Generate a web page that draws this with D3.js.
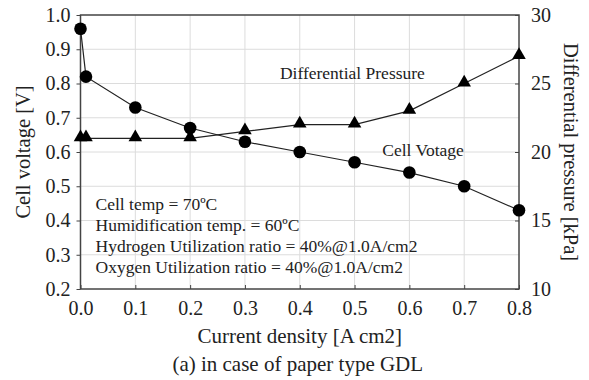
<!DOCTYPE html>
<html lang="en">
<head>
  <meta charset="UTF-8">
  <title>Cell voltage and differential pressure - paper type GDL</title>
  <script src="https://d3js.org/d3.v7.min.js"></script>
  <style>
    body { margin: 0; background: #fff; font-family: "Liberation Serif", "Times New Roman", serif; }
    svg text { font-family: "Liberation Serif", "Times New Roman", serif; fill: #222; }
    .grid line { stroke: #dcdcdc; stroke-width: 1; }
  </style>
</head>
<body>
<div id="chart"></div>
<script>
const current = [0.0, 0.01, 0.1, 0.2, 0.3, 0.4, 0.5, 0.6, 0.7, 0.8];
const voltage = [0.96, 0.82, 0.73, 0.67, 0.63, 0.60, 0.57, 0.54, 0.50, 0.43];
const pressure = [21, 21, 21, 21, 21.5, 22, 22, 23, 25, 27];
const xTicks = [0.0, 0.1, 0.2, 0.3, 0.4, 0.5, 0.6, 0.7, 0.8];
const yTicks = [0.2, 0.3, 0.4, 0.5, 0.6, 0.7, 0.8, 0.9, 1.0];
const pTicks = [10, 15, 20, 25, 30];
const notes = [
  "Cell temp = 70\u00BAC",
  "Humidification temp. = 60\u00BAC",
  "Hydrogen Utilization ratio = 40%@1.0A/cm2",
  "Oxygen Utilization ratio = 40%@1.0A/cm2"
];

const width = 589, height = 380;
const margin = {top: 15, right: 70, bottom: 91, left: 80.5};
const innerW = width - margin.left - margin.right;
const innerH = height - margin.top - margin.bottom;

const svg = d3.select("#chart").append("svg")
  .attr("width", width)
  .attr("height", height);

const g = svg.append("g")
  .attr("transform", `translate(${margin.left},${margin.top})`);

const x = d3.scaleLinear().domain([0, 0.8]).range([0, innerW]);
const y = d3.scaleLinear().domain([0.2, 1.0]).range([innerH, 0]);
const yp = d3.scaleLinear().domain([10, 30]).range([innerH, 0]);

// grid
const grid = g.append("g").attr("class", "grid");
grid.selectAll(".vx").data(xTicks.slice(1, -1)).enter().append("line")
  .attr("x1", d => x(d)).attr("x2", d => x(d))
  .attr("y1", 0).attr("y2", innerH);
grid.selectAll(".hy").data(yTicks.slice(1, -1)).enter().append("line")
  .attr("x1", 0).attr("x2", innerW)
  .attr("y1", d => y(d)).attr("y2", d => y(d));

// axes
const xAxis = g.append("g")
  .attr("transform", `translate(0,${innerH})`)
  .call(d3.axisBottom(x).tickValues(xTicks).tickFormat(d3.format(".1f")).tickSizeInner(-4).tickSizeOuter(0).tickPadding(12));
const yAxis = g.append("g")
  .call(d3.axisLeft(y).tickValues(yTicks).tickFormat(d3.format(".1f")).tickSizeInner(4).tickSizeOuter(0).tickPadding(6));
const pAxis = g.append("g")
  .attr("transform", `translate(${innerW},0)`)
  .call(d3.axisRight(yp).tickValues(pTicks).tickSizeInner(-4).tickSizeOuter(0).tickPadding(12));

[xAxis, yAxis, pAxis].forEach(a => {
  a.select(".domain").remove();
  a.selectAll("line").attr("stroke", "#444");
  a.selectAll("text").attr("font-size", 20).attr("fill", "#222");
});

// frame
g.append("rect")
  .attr("width", innerW).attr("height", innerH)
  .attr("fill", "none").attr("stroke", "#444").attr("stroke-width", 1.5);

// lines
const vLine = d3.line().x((d, i) => x(current[i])).y(d => y(d));
const pLine = d3.line().x((d, i) => x(current[i])).y(d => yp(d));

g.append("path").datum(pressure)
  .attr("d", pLine).attr("fill", "none").attr("stroke", "#222").attr("stroke-width", 1.2);
g.append("path").datum(voltage)
  .attr("d", vLine).attr("fill", "none").attr("stroke", "#222").attr("stroke-width", 1.2);

// markers
g.selectAll(".tri").data(pressure).enter().append("path")
  .attr("d", d3.symbol().type(d3.symbolTriangle).size(80))
  .attr("transform", (d, i) => `translate(${x(current[i])},${yp(d) - 1})`)
  .attr("fill", "#000");
g.selectAll(".dot").data(voltage).enter().append("circle")
  .attr("cx", (d, i) => x(current[i]))
  .attr("cy", d => y(d))
  .attr("r", 6.3)
  .attr("fill", "#000");

// series labels
g.append("text")
  .attr("x", x(0.496)).attr("y", y(0.813))
  .attr("text-anchor", "middle").attr("font-size", 17.5)
  .text("Differential Pressure");
g.append("text")
  .attr("x", x(0.625)).attr("y", y(0.588))
  .attr("text-anchor", "middle").attr("font-size", 17.5)
  .text("Cell Votage");

// conditions
g.selectAll(".note").data(notes).enter().append("text")
  .attr("x", 15)
  .attr("y", (d, i) => y(0.432) + i * 21)
  .attr("font-size", 17.5)
  .text(d => d);

// axis titles
svg.append("text")
  .attr("x", margin.left + innerW / 2).attr("y", 343)
  .attr("text-anchor", "middle").attr("font-size", 21)
  .text("Current density [A cm2]");
svg.append("text")
  .attr("x", margin.left + innerW / 2 - 2).attr("y", 371)
  .attr("text-anchor", "middle").attr("font-size", 21)
  .text("(a) in case of paper type GDL");
svg.append("text")
  .attr("transform", `translate(30,${margin.top + innerH / 2}) rotate(-90)`)
  .attr("text-anchor", "middle").attr("font-size", 20.5)
  .text("Cell voltage [V]");
svg.append("text")
  .attr("transform", `translate(564,${margin.top + innerH / 2}) rotate(90)`)
  .attr("text-anchor", "middle").attr("font-size", 20.5)
  .text("Differential pressure [kPa]");
</script>
</body>
</html>
